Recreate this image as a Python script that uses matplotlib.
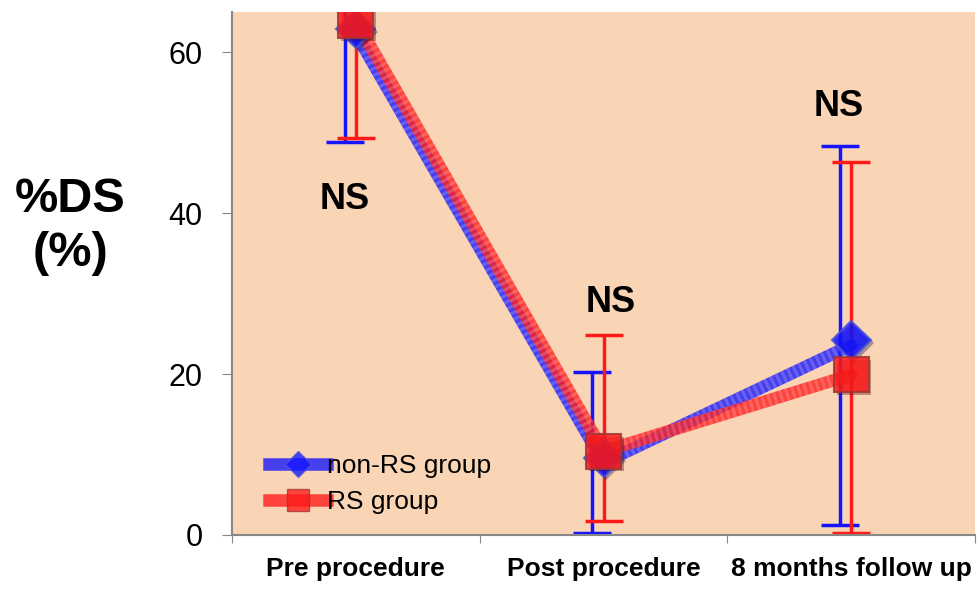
import matplotlib.pyplot as plt
import matplotlib.patheffects as pe
from matplotlib.lines import Line2D

plt.rcParams['font.family'] = ['Liberation Sans', 'DejaVu Sans']

stages = ['Pre procedure', 'Post procedure', '8 months follow up']

# mean %DS per stage
non_rs_mean = [62.9, 9.6, 24.2]
rs_mean = [63.9, 10.4, 19.9]

# error bar extents (below / above the mean)
non_rs_err_low = [14.1, 9.4, 23.0]
non_rs_err_high = [14.5, 10.7, 24.1]
rs_err_low = [14.6, 8.6, 19.7]
rs_err_high = [14.0, 14.4, 26.4]

ns_labels = ['NS', 'NS', 'NS']
ns_y = [41.7, 28.9, 53.2]

BLUE = '#1414ff'
RED = '#ff1a1a'
BG = '#fad5b5'

fig = plt.figure(figsize=(9.78, 5.89), dpi=100)
ax = fig.add_axes([0.2372, 0.0917, 0.7598, 0.888])
ax.set_facecolor(BG)

x = [i + 0.5 for i in range(len(stages))]
shadow = [pe.SimplePatchShadow(offset=(2, -2), alpha=0.35), pe.Normal()]

# error bars, slightly shifted so both groups are visible
ax.errorbar([v - 0.045 for v in x], non_rs_mean,
            yerr=[non_rs_err_low, non_rs_err_high],
            fmt='none', ecolor=BLUE, elinewidth=2.5, capsize=14, capthick=2.5,
            zorder=2)
ax.errorbar(x, rs_mean,
            yerr=[rs_err_low, rs_err_high],
            fmt='none', ecolor=RED, elinewidth=2.5, capsize=14, capthick=2.5,
            zorder=2)

# thick translucent group lines with a fine dotted texture on top
for mean, col, mk, ms, mec, off in [
        (non_rs_mean, BLUE, 'D', 20, '#4a55d8', -0.6),
        (rs_mean, RED, 's', 25, '#a03535', 0.0)]:
    ax.plot(x, [m + off for m in mean], color=col, lw=9, alpha=0.78,
            solid_capstyle='round', zorder=3)
    ax.plot(x, [m + off for m in mean], color='white', lw=9, alpha=0.18,
            linestyle=(0, (0.25, 0.25)), zorder=3)
    ax.plot(x, mean, linestyle='none', marker=mk, markersize=ms,
            markerfacecolor=col, markeredgecolor=mec, markeredgewidth=1.5,
            alpha=0.85, zorder=4, path_effects=shadow)

for xi, yi, t in zip([0.455, 1.53, 2.45], ns_y, ns_labels):
    ax.text(xi, yi, t, ha='center', va='center', fontsize=26,
            fontweight='bold')

ax.set_xlim(0, 3)
ax.set_ylim(0, 65)
ax.set_xticks([0, 1, 2, 3])
ax.set_xticklabels([])
ax.set_xticks(x, minor=True)
ax.set_xticklabels(stages, minor=True, fontsize=19, fontweight='bold')
ax.tick_params(axis='x', which='minor', length=0, pad=16)
ax.tick_params(axis='x', which='major', length=6, color='#888888',
               direction='out')
ax.set_yticks([0, 20, 40, 60])
ax.tick_params(axis='y', labelsize=22, length=7, color='#888888', pad=14)

for side in ['top', 'right']:
    ax.spines[side].set_visible(False)
for side in ['left', 'bottom']:
    ax.spines[side].set_color('#888888')
    ax.spines[side].set_linewidth(1.5)

fig.text(0.072, 0.615, '%DS\n(%)', ha='center', va='center',
         fontsize=35, fontweight='bold', linespacing=1.25)

handles = [
    Line2D([], [], color=BLUE, lw=9, alpha=0.78, marker='D', markersize=13,
           markerfacecolor=BLUE, markeredgecolor='#4a55d8'),
    Line2D([], [], color=RED, lw=9, alpha=0.78, marker='s', markersize=16,
           markerfacecolor=RED, markeredgecolor='#a03535'),
]
ax.legend(handles, ['non-RS group', 'RS group'], loc='lower left',
          bbox_to_anchor=(0.035, 0.02), frameon=False, fontsize=19,
          handlelength=2.2, handletextpad=0.0, labelspacing=0.45,
          borderaxespad=0)

fig.savefig('out.png', dpi=100)
